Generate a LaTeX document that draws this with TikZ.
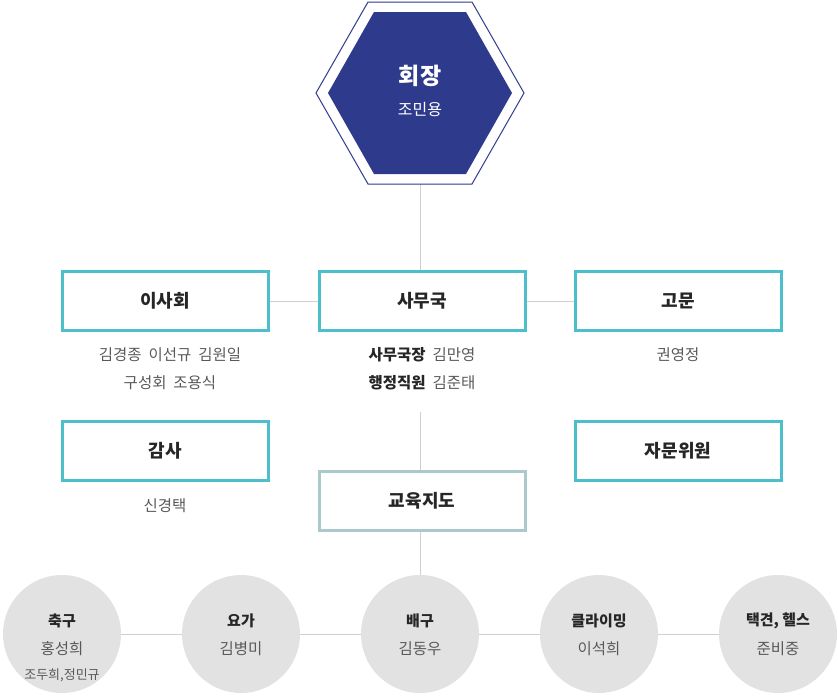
\documentclass[tikz,border=0pt]{standalone}
\usepackage{fontspec}
\setmainfont{Noto Sans CJK KR}
\begin{document}
\begin{tikzpicture}[x=1pt,y=-1pt,
  box/.style={draw=boxc,line width=3pt,fill=white,minimum width=206pt,minimum height=59pt,font=\fontsize{18}{20}\selectfont\bfseries,text=black!85},
  circ/.style={circle,fill=circc,minimum size=118pt,inner sep=0pt,align=center},
  ln/.style={draw=linec,line width=1pt},
  nm/.style={text=black!65,font=\fontsize{15.5}{28}\selectfont,align=center}]
\definecolor{boxc}{HTML}{4DBFCB}
\definecolor{boxg}{HTML}{ABC8CB}
\definecolor{circc}{HTML}{E2E2E2}
\definecolor{linec}{HTML}{CFCFCF}
\definecolor{hexc}{HTML}{2E3A8C}
\useasboundingbox (0,0) rectangle (838,696);
\coordinate (hb) at (420,184);
\coordinate (v1) at (420,412);
\node[box] (sa) at (422,301) {사무국};
\node[box] (ih) at (165,301) {이사회};
\node[box] (gm) at (678,301) {고문};
\node[box] (gs) at (165,451) {감사};
\node[box] (jm) at (678,451) {자문위원};
\node[box,draw=boxg] (ed) at (422,501) {교육지도};
\node[circ] (c1) at (62,634) {};
\node[circ] (c2) at (241,634) {};
\node[circ] (c3) at (420,634) {};
\node[circ] (c4) at (599,634) {};
\node[circ] (c5) at (778,634) {};
\draw[ln] (hb) -- (sa.north -| hb);
\draw[ln] (ih.east) -- (sa.west);
\draw[ln] (sa.east) -- (gm.west);
\draw[ln] (v1) -- (ed.north -| v1);
\draw[ln] (ed.south -| v1) -- (c3.north);
\draw[ln] (c1.east) -- (c2.west);
\draw[ln] (c2.east) -- (c3.west);
\draw[ln] (c3.east) -- (c4.west);
\draw[ln] (c4.east) -- (c5.west);
\draw[hexc,line width=1pt,fill=white] (316,93) -- (368,2) -- (472,2) -- (524,93) -- (472,184) -- (368,184) -- cycle;
\fill[hexc] (328,93) -- (374,12) -- (466,12) -- (512,93) -- (466,174) -- (374,174) -- cycle;
\node[text=white,font=\fontsize{23}{24}\selectfont\bfseries] (hz) at (420,76) {회장};
\node[text=white,font=\fontsize{16}{18}\selectfont] (hn) at (420,109) {조민용};
\node[nm] (n1) at (170,369) {김경종\ \ 이선규\ \ 김원일\\구성회\ \ 조용식};
\node[nm] (n2) at (422,369) {\textbf{\color{black!85}사무국장}\ \ 김만영\\\textbf{\color{black!85}행정직원}\ \ 김준태};
\node[nm] (n3) at (678,355) {권영정};
\node[nm] (n4) at (165,506) {신경택};
\node[font=\fontsize{15}{16}\selectfont\bfseries,text=black!85] (t1) at (62,621) {축구};
\node[nm] (s1) at (62,649) {홍성희};
\node[nm,font=\fontsize{13}{14}\selectfont] (s1b) at (62,675) {조두희,정민규};
\node[font=\fontsize{15}{16}\selectfont\bfseries,text=black!85] (t2) at (241,621) {요가};
\node[nm] (s2) at (241,649) {김병미};
\node[font=\fontsize{15}{16}\selectfont\bfseries,text=black!85] (t3) at (420,621) {배구};
\node[nm] (s3) at (420,649) {김동우};
\node[font=\fontsize{15}{16}\selectfont\bfseries,text=black!85] (t4) at (599,621) {클라이밍};
\node[nm] (s4) at (599,649) {이석희};
\node[font=\fontsize{15}{16}\selectfont\bfseries,text=black!85] (t5) at (778,621) {택견, 헬스};
\node[nm] (s5) at (778,649) {준비중};
\end{tikzpicture}
\end{document}
